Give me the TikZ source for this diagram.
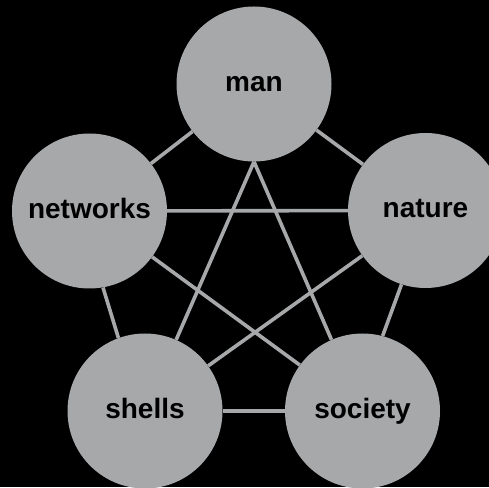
\documentclass[tikz,border=0pt]{standalone}
\usepackage{fontspec}
\setmainfont{Liberation Sans}
\usepackage{xcolor}
\usetikzlibrary{positioning}
\definecolor{discgray}{HTML}{A7A8AA}
\tikzset{
	disc/.style={circle, fill=discgray, minimum size=155pt, inner sep=0pt, text height=14.5pt, text depth=0pt, font=\fontsize{28}{32}\selectfont\bfseries},
	link/.style={draw=discgray, line width=3.6pt},
}

\begin{document}
\begin{tikzpicture}[x=1pt, y=1pt]
	\fill[black] (0,0) rectangle (489,487);
	\useasboundingbox (0,0) rectangle (489,487);
	\node[disc] (man) at (254,403) {man};
	\node[disc] (networks) at (89.5,276) {networks};
	\node[disc] (nature) at (425.5,276.5) {nature};
	\node[disc] (shells) at (145,76) {shells};
	\node[disc] (society) at (362.5,76) {society};
	% outer ring
	\draw[link] (man) -- (nature);
	\draw[link] (nature.-108) -- (society.75);
	\draw[link] (society) -- (shells);
	\draw[link] (shells.110) -- (networks.-80);
	\draw[link] (networks) -- (man);
	% star
	\draw[link] (man.south) -- (shells);
	\draw[link] (man.south) -- (society);
	\draw[link] (networks) -- (nature);
	\draw[link] (networks) -- (society);
	\draw[link] (nature) -- (shells);
\end{tikzpicture}
\end{document}
